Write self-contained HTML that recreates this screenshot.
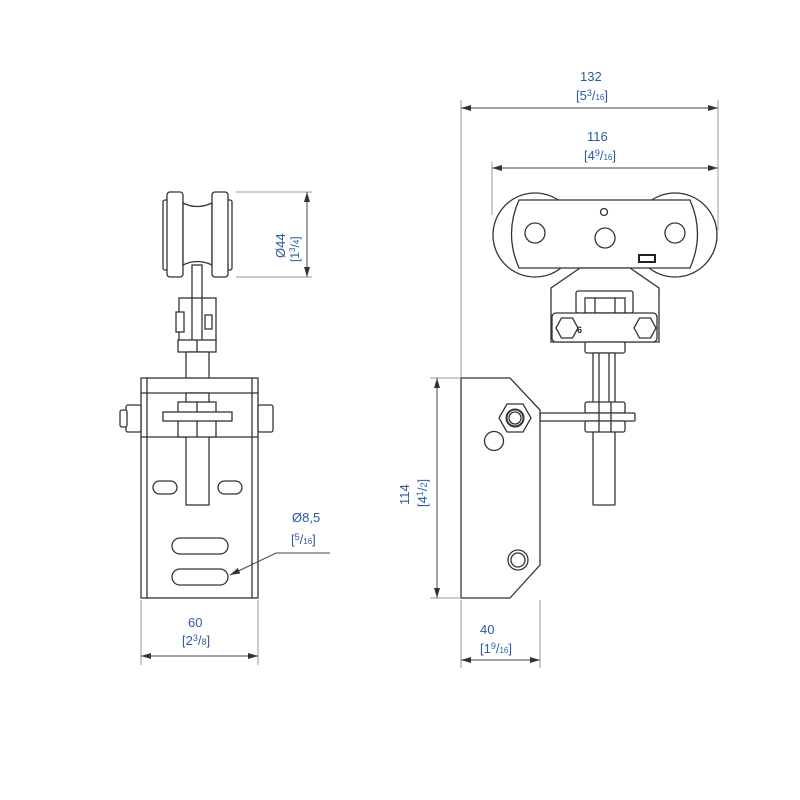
<!DOCTYPE html>
<html><head><meta charset="utf-8"><style>
html,body{margin:0;padding:0;background:#fff}
svg{display:block}
text{font-family:"Liberation Sans",sans-serif;fill:#2f5a9e;font-size:13px}
.s{fill:none;stroke:#333;stroke-width:1.3}
.w{fill:#fff;stroke:#333;stroke-width:1.3}
.d{fill:none;stroke:#444;stroke-width:1}
.e{fill:none;stroke:#999;stroke-width:1}
</style></head><body>
<svg width="800" height="800" viewBox="0 0 800 800" xmlns="http://www.w3.org/2000/svg">
<defs><marker id="a" viewBox="0 0 10 6" refX="10" refY="3" markerWidth="10" markerHeight="6" orient="auto-start-reverse"><path d="M0,0L10,3L0,6z" fill="#333"/></marker></defs>

<!-- LEFT VIEW -->
<!-- wheel -->
<rect class="w" x="163" y="200" width="6" height="70" rx="2"/>
<rect class="w" x="167" y="192" width="16" height="85" rx="3"/>
<path class="w" d="M183,203 Q197,210 212,203 L212,265 Q197,258 183,265 Z"/>
<rect class="w" x="226" y="200" width="6" height="70" rx="2"/>
<rect class="w" x="212" y="192" width="16" height="85" rx="3"/>
<rect class="w" x="192" y="265" width="10" height="35"/>
<!-- clamp -->
<rect class="w" x="179" y="298" width="37" height="44"/>
<rect class="w" x="176" y="312" width="8" height="20"/>
<rect class="w" x="205" y="315" width="7" height="14"/>
<line class="s" x1="192" y1="298" x2="192" y2="342"/><line class="s" x1="202" y1="298" x2="202" y2="342"/>
<rect class="w" x="178" y="340" width="38" height="12"/>
<line class="s" x1="197" y1="340" x2="197" y2="352"/>
<!-- rod -->
<rect class="w" x="186" y="352" width="23" height="153" rx="1"/>
<!-- bracket -->
<rect class="w" x="141" y="378" width="117" height="220"/>
<line class="s" x1="147" y1="378" x2="147" y2="598"/><line class="s" x1="252" y1="378" x2="252" y2="598"/>
<line class="s" x1="141" y1="393" x2="258" y2="393"/>
<line class="s" x1="141" y1="437" x2="258" y2="437"/>
<rect class="w" x="186" y="393" width="23" height="112"/>
<rect class="w" x="178" y="402" width="38" height="35"/>
<line class="s" x1="197" y1="402" x2="197" y2="437"/>
<rect class="w" x="163" y="412" width="69" height="9"/>
<rect class="w" x="126" y="405" width="15" height="27" rx="2"/>
<rect class="w" x="120" y="410" width="7" height="17" rx="2"/>
<rect class="w" x="258" y="405" width="15" height="27" rx="2"/>
<!-- slots -->
<rect class="w" x="153" y="481" width="24" height="13" rx="6.5"/>
<rect class="w" x="218" y="481" width="24" height="13" rx="6.5"/>
<rect class="w" x="172" y="538" width="56" height="16" rx="8"/>
<rect class="w" x="172" y="569" width="56" height="16" rx="8"/>
<!-- dims left -->
<line class="e" x1="236" y1="192" x2="312" y2="192"/><line class="e" x1="236" y1="277" x2="312" y2="277"/>
<line class="d" x1="307" y1="192" x2="307" y2="277" marker-start="url(#a)" marker-end="url(#a)"/>
<text transform="translate(285,258) rotate(-90)">Ø44</text>
<text transform="translate(299,262) rotate(-90)" style="font-size:12px">[1<tspan dy="-4" font-size="8">3</tspan><tspan dy="4">/</tspan><tspan font-size="8">4</tspan>]</text>
<line class="e" x1="141" y1="600" x2="141" y2="665"/><line class="e" x1="258" y1="600" x2="258" y2="665"/>
<line class="d" x1="141" y1="656" x2="258" y2="656" marker-start="url(#a)" marker-end="url(#a)"/>
<text x="188" y="627">60</text>
<text x="182" y="645">[2<tspan dy="-4" font-size="9">3</tspan><tspan dy="4">/</tspan><tspan font-size="9">8</tspan>]</text>
<text x="292" y="522">Ø8,5</text>
<text x="291" y="544">[<tspan dy="-4" font-size="9">5</tspan><tspan dy="4">/</tspan><tspan font-size="8">16</tspan>]</text>
<polyline class="d" points="330,553 276,553 230,575" marker-end="url(#a)"/>

<!-- RIGHT VIEW -->
<line class="e" x1="461" y1="100" x2="461" y2="378"/>
<line class="e" x1="718" y1="100" x2="718" y2="230"/>
<line class="e" x1="492" y1="162" x2="492" y2="215"/>
<line class="d" x1="461" y1="108" x2="718" y2="108" marker-start="url(#a)" marker-end="url(#a)"/>
<line class="d" x1="492" y1="168" x2="718" y2="168" marker-start="url(#a)" marker-end="url(#a)"/>
<text x="580" y="81">132</text>
<text x="576" y="100">[5<tspan dy="-4" font-size="9">3</tspan><tspan dy="4">/</tspan><tspan font-size="8">16</tspan>]</text>
<text x="587" y="141">116</text>
<text x="584" y="160">[4<tspan dy="-4" font-size="9">9</tspan><tspan dy="4">/</tspan><tspan font-size="8">16</tspan>]</text>
<!-- wheels & plate -->
<circle class="w" cx="535" cy="235" r="42"/>
<circle class="w" cx="675" cy="235" r="42"/>
<path class="w" d="M519,200 L690,200 Q705,234 690,268 L519,268 Q504,234 519,200 Z"/>
<circle class="s" cx="535" cy="233" r="10"/>
<circle class="s" cx="605" cy="238" r="10"/>
<circle class="s" cx="675" cy="233" r="10"/>
<circle class="s" cx="604" cy="212" r="3.5"/>
<rect x="639" y="255" width="16" height="7" fill="#fff" stroke="#222" stroke-width="2"/>
<!-- lower block -->
<path class="w" d="M580,268 L630,268 L659,288 L659,342 L551,342 L551,288 Z"/>
<rect class="w" x="576" y="291" width="57" height="22" rx="2"/>
<rect class="w" x="585" y="298" width="40" height="15"/>
<line class="s" x1="595" y1="298" x2="595" y2="313"/><line class="s" x1="615" y1="298" x2="615" y2="313"/>
<rect class="w" x="552" y="313" width="105" height="29" rx="4"/>
<polygon class="w" points="556,328 561.5,318 572.5,318 578,328 572.5,338 561.5,338"/>
<polygon class="w" points="634,328 639.5,318 650.5,318 656,328 650.5,338 639.5,338"/>
<text x="577" y="333" style="fill:#222;font-size:9px;font-weight:bold">6</text>
<rect class="w" x="585" y="342" width="40" height="11" rx="2"/>
<rect class="w" x="593" y="353" width="22" height="152" rx="1"/>
<line class="s" x1="599" y1="353" x2="599" y2="402"/><line class="s" x1="609" y1="353" x2="609" y2="402"/>
<rect class="w" x="585" y="402" width="40" height="11" rx="2"/>
<rect class="w" x="540" y="413" width="95" height="8" rx="1"/>
<rect class="w" x="585" y="421" width="40" height="11" rx="2"/>
<line class="s" x1="599" y1="402" x2="599" y2="432"/><line class="s" x1="611" y1="402" x2="611" y2="432"/>
<!-- bracket -->
<polygon class="w" points="461,378 510,378 540,410 540,565 510,598 461,598"/>
<polygon class="w" points="499,418 507,404 523,404 531,418 523,432 507,432"/>
<circle class="s" cx="515" cy="418" r="8.5" style="stroke-width:2"/>
<circle class="s" cx="515" cy="418" r="6"/>
<circle class="s" cx="494" cy="441" r="9.5"/>
<circle class="s" cx="518" cy="560" r="10"/>
<circle class="s" cx="518" cy="560" r="7"/>
<!-- dims right -->
<line class="e" x1="430" y1="378" x2="461" y2="378"/><line class="e" x1="430" y1="598" x2="461" y2="598"/>
<line class="d" x1="437" y1="378" x2="437" y2="598" marker-start="url(#a)" marker-end="url(#a)"/>
<text transform="translate(409,505) rotate(-90)">114</text>
<text transform="translate(427,507) rotate(-90)">[4<tspan dy="-4" font-size="9">1</tspan><tspan dy="4">/</tspan><tspan font-size="9">2</tspan>]</text>
<line class="e" x1="461" y1="600" x2="461" y2="668"/><line class="e" x1="540" y1="600" x2="540" y2="668"/>
<line class="d" x1="461" y1="660" x2="540" y2="660" marker-start="url(#a)" marker-end="url(#a)"/>
<text x="480" y="634">40</text>
<text x="480" y="653">[1<tspan dy="-4" font-size="9">9</tspan><tspan dy="4">/</tspan><tspan font-size="8">16</tspan>]</text>
</svg>
</body></html>
